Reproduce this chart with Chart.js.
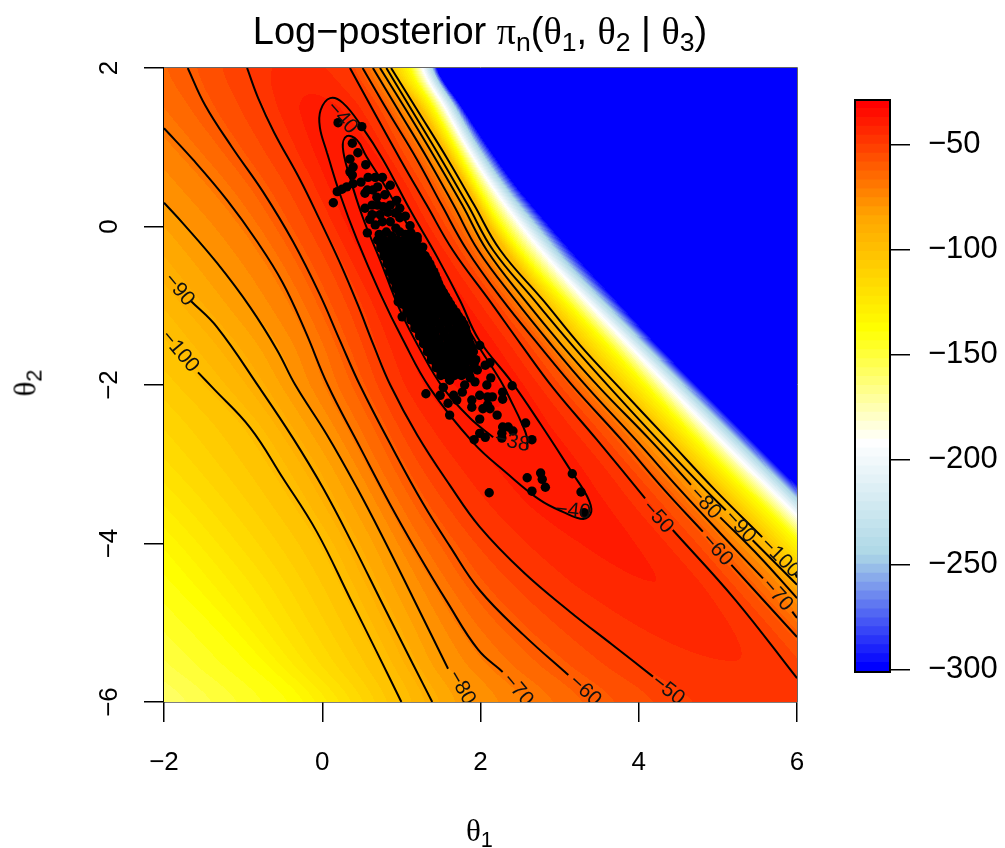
<!DOCTYPE html>
<html lang="en">
<head>
<meta charset="UTF-8">
<title>Log-posterior</title>
<script src="https://cdn.jsdelivr.net/npm/chart.js"></script>
<style>
  body { margin: 0; background: #fff; width: 1005px; height: 848px; overflow: hidden; position: relative; font-family: "Liberation Sans", sans-serif; color: #000; }
  canvas { position: absolute; top: 0; }
  #main { left: 0; }
  #bar { left: 830px; }
  .txt { position: absolute; white-space: nowrap; }
  .gr { font-family: "Liberation Serif", serif; }
  sub { font-size: 70%; vertical-align: baseline; position: relative; top: 0.28em; }
  #title { left: 0; width: 960px; top: 9px; text-align: center; font-size: 38px; line-height: 44px; }
  #xlab { left: 466px; top: 813px; font-size: 31px; line-height: 36px; }
  #ylab { left: 27px; top: 383px; font-size: 31px; line-height: 36px; transform: translate(-50%, -50%) rotate(-90deg); }
</style>
</head>
<body>
<canvas id="main" width="830" height="848"></canvas>
<canvas id="bar" width="175" height="848"></canvas>
<div id="title" class="txt">Log−posterior <span class="gr">π</span><sub>n</sub><span>(</span><span class="gr">θ</span><sub>1</sub>, <span class="gr">θ</span><sub>2</sub> | <span class="gr">θ</span><sub>3</sub>)</div>
<div id="xlab" class="txt"><span class="gr">θ</span><sub>1</sub></div>
<div id="ylab" class="txt"><span class="gr">θ</span><sub>2</sub></div>
<script>
// Rows of the field, theta2 from 2 down to -6
const rowTheta2 = [2, 1.5, 1, 0.5, 0, -0.5, -1, -1.5, -2, -2.5, -3, -3.5, -4, -4.5, -5, -5.5, -6];

// theta1 where each row crosses a level (left of ridge)
const iso160L = [-10.1,-9.6,-9.1,-8.6,-8.1,-7.6,-7.1,-6.6,-6.1,-5.6,-5.1,-4.6,-4.1,-3.6,-3.1,-2.6,-2.0];
const iso138L = [-8.24,-7.74,-7.23,-6.73,-6.22,-5.72,-5.21,-4.71,-4.20,-3.69,-3.25,-2.75,-2.24,-1.80,-1.32,-0.85,-0.35];
const iso120L = [-6.92,-6.41,-5.91,-5.40,-4.90,-4.39,-3.92,-3.44,-3.00,-2.56,-2.08,-1.61,-1.19,-0.79,-0.47,-0.13,0.29];
const iso100L = [-4.71,-4.27,-3.87,-3.47,-3.06,-2.66,-2.24,-1.85,-1.42,-0.95,-0.62,-0.31,0.01,0.26,0.50,0.76,1.00];
const iso90L = [-4.07,-3.64,-3.24,-2.83,-2.43,-2.03,-1.61,-1.17,-0.81,-0.48,-0.16,0.12,0.39,0.63,0.88,1.12,1.39];
const iso80L = [-3.44,-3.04,-2.62,-2.20,-1.72,-1.30,-0.93,-0.58,-0.34,-0.03,0.27,0.54,0.81,1.05,1.30,1.54,1.87];
const iso70L = [-2.68,-2.24,-1.79,-1.34,-0.95,-0.62,-0.34,-0.10,0.07,0.33,0.59,0.86,1.13,1.44,1.74,2.12,2.65];
const iso60L = [-1.70,-1.47,-1.13,-0.77,-0.47,-0.19,0.05,0.27,0.48,0.73,0.98,1.26,1.60,1.93,2.37,2.92,3.51];
const iso50L = [-0.95,-0.74,-0.50,-0.23,0.02,0.27,0.50,0.68,0.85,1.10,1.40,1.77,2.18,2.71,3.32,3.95,4.65];
// ridge line and its height
const ridgeTheta1 = [-0.28,-0.03,0.29,0.59,0.79,1.05,1.36,1.68,1.99,2.37,2.82,3.19,3.70,4.21,4.71,5.22,5.72];
const ridgeValue = [-44,-40,-38,-36,-36,-36,-36,-36,-36,-38,-39,-39.5,-40.6,-41.4,-43.5,-45.7,-48];
// right of ridge
const iso50R = [0.35,0.65,0.90,1.18,1.47,1.80,2.15,2.52,2.89,3.31,3.74,4.15,4.59,5.03,5.45,5.85,6.23];
const iso60R = [0.51,0.82,1.11,1.42,1.70,1.99,2.37,2.77,3.16,3.61,4.03,4.50,4.95,5.38,5.85,6.32,6.77];
const iso70R = [0.64,0.93,1.24,1.53,1.82,2.14,2.50,2.90,3.32,3.78,4.23,4.69,5.17,5.64,6.07,6.52,6.99];
const iso80R = [0.73,1.05,1.34,1.62,1.91,2.22,2.60,3.00,3.45,3.95,4.42,4.87,5.35,5.86,6.32,6.80,7.28];
const iso90R = [0.81,1.13,1.41,1.70,1.99,2.33,2.73,3.13,3.57,4.05,4.55,5.03,5.49,5.99,6.48,6.98,7.49];
const iso100R = [0.87,1.24,1.54,1.84,2.12,2.47,2.85,3.26,3.70,4.19,4.67,5.16,5.63,6.07,6.54,7.05,7.55];
const iso138R = [1.11,1.40,1.68,1.96,2.27,2.66,3.13,3.61,4.08,4.55,5.03,5.54,6.04,6.54,7.05,7.55,8.06];
const iso192R = [1.27,1.55,1.83,2.15,2.52,2.94,3.40,3.88,4.36,4.84,5.34,5.85,6.35,6.86,7.36,7.87,8.37];
const iso246R = [1.39,1.68,1.97,2.31,2.71,3.13,3.60,4.08,4.56,5.05,5.56,6.07,6.58,7.08,7.59,8.10,8.60];
const iso300R = [1.45,1.77,2.10,2.46,2.88,3.32,3.78,4.24,4.73,5.23,5.73,6.25,6.77,7.29,7.81,8.33,8.85];

// Contour lines as [theta1, theta2], null = gap for a label
const contour100 = [[-1.57,-1.84],[-1.38,-2.04],[-0.91,-2.54],[-0.50,-3.17],[-0.07,-3.85],[0.35,-4.69],[0.69,-5.37],[1.00,-6],null,
  [0.87,2],[1.20,1.47],[1.59,0.84],[1.92,0.27],[2.25,-0.30],[2.79,-0.93],[3.26,-1.50],[3.76,-2.04],[4.37,-2.69],[4.96,-3.32],[5.56,-3.92],null,[5.98,-4.38],[6,-4.43]];
const contour90 = [[-1.66,-0.94],[-1.33,-1.27],[-0.79,-2.04],[-0.37,-2.67],[0.01,-3.30],[0.39,-4.02],[0.77,-4.78],[1.15,-5.53],[1.39,-6],null,
  [0.81,2],[1.13,1.47],[1.51,0.84],[1.84,0.27],[2.16,-0.30],[2.68,-0.93],[3.16,-1.50],[3.64,-2.04],[4.24,-2.69],[4.84,-3.32],[5.10,-3.58],null,[5.44,-3.96],[6,-4.52]];
const contour80 = [[-2,0.30],[-1.76,0.04],[-1.33,-0.46],[-0.91,-1.02],[-0.57,-1.56],[-0.34,-2.00],[0.06,-2.63],[0.44,-3.30],[0.77,-3.93],[1.15,-4.69],[1.59,-5.58],null,
  [0.73,2],[1.06,1.47],[1.44,0.84],[1.77,0.27],[2.08,-0.30],[2.56,-0.93],[3.03,-1.50],[3.51,-2.04],[4.14,-2.69],[4.66,-3.26],null,[5.03,-3.67],[5.53,-4.17],[6,-4.69]];
const contour70 = [[-2,1.24],[-1.63,0.84],[-1.20,0.33],[-0.83,-0.18],[-0.50,-0.71],[-0.21,-1.33],[0.07,-2.00],[0.48,-2.79],[0.86,-3.51],[1.20,-4.11],[1.58,-4.74],[1.97,-5.34],[2.28,-5.62],null,
  [0.64,2],[0.96,1.47],[1.34,0.84],[1.66,0.27],[1.97,-0.30],[2.44,-0.93],[2.90,-1.50],[3.36,-2.04],[3.96,-2.69],[4.52,-3.32],[5.03,-3.87],[5.57,-4.44],null,[5.94,-4.86],[6,-4.94]];
const contour60 = [[-1.70,2],[-1.48,1.53],[-1.14,1.00],[-0.75,0.44],[-0.37,-0.19],[-0.03,-0.86],[0.22,-1.43],[0.48,-2.01],[0.90,-2.82],[1.27,-3.49],[1.61,-4.03],[1.99,-4.59],[2.54,-5.15],[3.11,-5.66],null,
  [0.51,2],[0.82,1.47],[1.20,0.84],[1.51,0.27],[1.83,-0.30],[2.28,-0.93],[2.74,-1.50],[3.19,-2.04],[3.78,-2.69],[4.32,-3.32],[4.81,-3.85],null,[5.17,-4.27],[6,-5.18]];
const contour50 = [[-0.95,2],[-0.81,1.62],[-0.61,1.19],[-0.28,0.59],[-0.03,0.08],[0.22,-0.45],[0.45,-0.99],[0.65,-1.50],[0.86,-2.00],[1.20,-2.63],[1.61,-3.26],[1.99,-3.79],[2.54,-4.36],[3.13,-4.86],[3.67,-5.28],[4.18,-5.68],null,
  [0.35,2],[0.64,1.47],[0.99,0.84],[1.32,0.27],[1.65,-0.30],[2.11,-0.93],[2.52,-1.50],[2.92,-2.04],[3.47,-2.69],[4.08,-3.43],null,[4.43,-3.83],[5.22,-4.71],[6,-5.70]];
const contour40 = [[0.06,0.93],[0.22,0.42],[0.44,-0.17],[0.73,-0.84],[1.02,-1.43],[1.36,-2.04],[1.91,-2.73],[2.33,-3.11],[2.75,-3.45],[3.04,-3.60],[3.30,-3.69],[3.40,-3.60],[3.35,-3.41],[3.16,-3.11],[2.75,-2.48],[2.40,-1.97],[1.98,-1.43],[1.74,-0.93],[1.45,-0.38],[1.11,0.21],[0.77,0.84],[0.50,1.26],[0.26,1.56],[0.10,1.62],[-0.02,1.47],[-0.03,1.25],[0.06,0.93]];
const contour38 = [[2.16,-2.66],[1.87,-2.42],[1.53,-2.04],[1.24,-1.56],[0.98,-1.05],[0.73,-0.42],[0.51,0.12],[0.35,0.62],[0.26,1.00],[0.31,1.14],[0.44,1.09],[0.56,0.88],[0.77,0.55],[1.02,0.12],[1.32,-0.38],[1.58,-0.84],[1.83,-1.27],[1.98,-1.52],[2.25,-1.94],[2.40,-2.23],[2.52,-2.48],[2.59,-2.67],[2.59,-2.81]];

// Contour labels
const labelText = ['−90','−100','−40','−38','−40','−80','−70','−60','−50','−50','−60','−70','−80','−90','−100'];
const labelTheta1 = [-1.81,-1.80,0.25,2.40,3.17,1.76,2.47,3.32,4.37,4.24,4.99,5.75,4.84,5.28,5.79];
const labelTheta2 = [-0.80,-1.58,1.37,-2.72,-3.59,-5.82,-5.85,-5.86,-5.85,-3.67,-4.08,-4.65,-3.49,-3.79,-4.18];
const labelAngle = [50,50,48,12,6,60,50,43,38,48,48,48,47,47,45];

// Posterior sample, scattered points read one by one
const samplesOuter = [[0.20,1.31],[0.50,1.26],[0.38,1.05],[0.45,0.93],[0.35,0.85],[0.55,0.78],[0.39,0.75],[0.35,0.69],[0.38,0.65],
  [0.19,0.44],[0.25,0.47],[0.31,0.50],[0.39,0.54],[0.49,0.56],[0.58,0.62],[0.67,0.62],[0.76,0.62],[0.86,0.52],[0.14,0.30],[0.54,0.42],
  [0.64,0.46],[0.69,0.37],[0.57,0.46],[0.70,0.27],[0.86,0.27],[0.77,0.25],[0.54,0.23],[0.60,0.09],[0.57,-0.08],[0.98,0.23],[1.11,0.01],
  [1.20,-0.13],[1.27,-0.26],[0.67,0.02],[0.76,0.06],[0.86,0.06],[0.93,-0.02],[0.81,-0.07],[0.88,-0.12],[0.98,-0.07],[1.05,0.13],[0.83,0.18],
  [0.92,0.17],[0.73,0.15],[0.98,0.11],[0.63,0.27],[0.79,0.40],[0.70,0.50],[0.63,0.15],[0.94,0.33],[0.72,-0.10],[1.05,-0.10],[1.12,-0.08],
  [2.59,-3.17],[2.76,-3.11],[2.78,-3.19],[2.82,-3.29],[2.65,-3.34],[3.16,-3.12],[3.27,-3.35],[3.31,-3.61],[2.11,-3.36],[1.92,-2.69],
  [1.99,-2.61],[2.06,-2.66],[2.28,-2.53],[2.35,-2.53],[2.41,-2.58],[2.27,-2.61],[2.27,-2.67],[2.57,-2.48],[2.65,-2.69],[2.21,-2.38],
  [1.99,-2.43],[2.03,-2.30],[2.12,-2.30],[2.09,-2.25],[2.15,-2.15],[2.09,-2.15],[2.28,-2.09],[2.28,-2.18],[2.40,-2.01],[1.89,-2.28],
  [1.89,-2.19],[1.99,-2.13],[2.08,-2.00],[1.31,-2.11],[1.53,-2.03],[1.61,-1.94],[1.77,-2.09],[1.70,-2.19],[1.59,-2.23],[1.61,-2.38],
  [2.06,-1.75],[2.12,-1.72],[1.99,-1.50],[2.13,-1.91],[1.83,-1.39],[1.96,-1.81],[1.93,-1.96],[1.51,-1.84],[1.01,-1.14],[0.96,-0.95],
  [1.17,-1.28],[1.39,-1.68],[1.66,-2.13],[1.49,-2.13],[1.80,-2.00],[1.87,-1.91]];
// dense middle of the cloud, by theta2 band
const coreTheta2 = [-0.17,-0.22,-0.27,-0.32,-0.37,-0.42,-0.47,-0.52,-0.57,-0.62,-0.67,-0.72,-0.78,-0.83,-0.88,-0.93,-0.98,-1.03,-1.08,-1.13,-1.18,-1.23,-1.28,-1.33,-1.38,-1.43,-1.48,-1.53,-1.58,-1.63,-1.68,-1.73,-1.78,-1.83,-1.88];
const coreTheta1 = [
  [0.70,0.78,0.87,0.95,1.04,1.12,1.20],
  [0.74,0.82,0.91,0.99,1.08,1.17],
  [0.74,0.83,0.91,1.00,1.08,1.17,1.26],
  [0.78,0.87,0.95,1.04,1.12,1.21],
  [0.78,0.86,0.95,1.03,1.12,1.21,1.30],
  [0.82,0.90,0.99,1.07,1.16,1.26,1.33],
  [0.82,0.91,0.99,1.08,1.16,1.26,1.36],
  [0.86,0.95,1.03,1.12,1.21,1.31,1.38],
  [0.85,0.94,1.03,1.12,1.21,1.31,1.41],
  [0.89,0.98,1.07,1.16,1.26,1.35,1.43],
  [0.89,0.98,1.07,1.16,1.26,1.35,1.45],
  [0.93,1.02,1.11,1.21,1.30,1.40,1.47],
  [0.93,1.02,1.11,1.20,1.30,1.40,1.50],
  [0.97,1.07,1.16,1.25,1.35,1.45,1.53],
  [0.97,1.07,1.16,1.26,1.36,1.46,1.56],
  [1.02,1.11,1.21,1.31,1.41,1.51,1.59],
  [1.02,1.11,1.21,1.31,1.41,1.52,1.62],
  [1.07,1.16,1.26,1.36,1.46,1.57,1.65],
  [1.07,1.17,1.27,1.37,1.48,1.58,1.69],
  [1.12,1.22,1.32,1.42,1.53,1.63,1.72],
  [1.12,1.22,1.33,1.43,1.54,1.65,1.76],
  [1.17,1.27,1.38,1.48,1.59,1.70,1.79],
  [1.18,1.28,1.38,1.49,1.60,1.71,1.81],
  [1.23,1.33,1.43,1.54,1.65,1.76,1.82],
  [1.23,1.33,1.43,1.54,1.64,1.74,1.83],
  [1.28,1.38,1.48,1.59,1.69,1.79,1.85],
  [1.28,1.38,1.48,1.58,1.68,1.78,1.87],
  [1.33,1.43,1.53,1.63,1.73,1.83,1.89],
  [1.33,1.43,1.53,1.63,1.72,1.82,1.91],
  [1.38,1.48,1.58,1.68,1.77,1.87],
  [1.38,1.48,1.58,1.67,1.76,1.85,1.94],
  [1.44,1.53,1.63,1.72,1.81,1.92],
  [1.44,1.53,1.62,1.71,1.80,1.91],
  [1.50,1.58,1.67,1.76,1.85],
  [1.50,1.58,1.67,1.76,1.86]
];

const xTicks = [-2, 0, 2, 4, 6];
const yTicks = [-6, -4, -2, 0, 2];
const barTicks = [-50, -100, -150, -200, -250, -300];

// Colour scale
const rampStops = [[0,0,255],[173,216,230],[255,255,255],[255,255,0],[255,165,0],[255,0,0]];
const zMin = -301, zMax = -28.6, nColours = 64;

function colourAt(i) {
  const t = i / (nColours - 1) * (rampStops.length - 1);
  const k = Math.min(Math.floor(t), rampStops.length - 2), f = t - k;
  return rampStops[k].map((c, n) => Math.round(c + (rampStops[k + 1][n] - c) * f));
}
const palette = [];
for (let i = 0; i < nColours; i++) palette.push(colourAt(i));

function colourFor(v) {
  const i = Math.floor((v - zMin) / (zMax - zMin) * nColours);
  return palette[Math.max(0, Math.min(nColours - 1, i))];
}

const minus = v => String(v).replace('-', '−');

// Filled field between the read iso lines
const knotLines = [iso160L, iso138L, iso120L, iso100L, iso90L, iso80L, iso70L, iso60L, iso50L, ridgeTheta1,
  iso50R, iso60R, iso70R, iso80R, iso90R, iso100R, iso138R, iso192R, iso246R, iso300R];
const knotLevels = [-160, -138, -120, -100, -90, -80, -70, -60, -50, null, -50, -60, -70, -80, -90, -100, -138, -192, -246, -300];
const ridgeIndex = knotLevels.indexOf(null);

// smooth shading along a read line between two rows
function rowPos(l, i, f) {
  const a = l[Math.max(0, i - 1)], b = l[i], c = l[i + 1], d = l[Math.min(l.length - 1, i + 2)];
  return b + 0.5 * f * (c - a + f * (2 * a - 5 * b + 4 * c - d + f * (3 * (b - c) + d - a)));
}

const fieldPlugin = {
  id: 'field',
  beforeDatasetsDraw(chart) {
    const { ctx, chartArea: a, scales: { x, y } } = chart;
    const w = Math.round(a.right - a.left), h = Math.round(a.bottom - a.top);
    const off = document.createElement('canvas');
    off.width = w; off.height = h;
    const octx = off.getContext('2d');
    const img = octx.createImageData(w, h);
    for (let py = 0; py < h; py++) {
      const t2 = y.getValueForPixel(a.top + py + 0.5);
      const r = Math.max(0, Math.min(rowTheta2.length - 1.001, (rowTheta2[0] - t2) / 0.5));
      const i0 = Math.floor(r), fr = r - i0;
      const pos = knotLines.map(l => rowPos(l, i0, fr));
      const top = ridgeValue[i0] + (ridgeValue[i0 + 1] - ridgeValue[i0]) * fr;
      const val = knotLevels.map(v => v === null ? top : v);
      let k = 0;
      for (let px = 0; px < w; px++) {
        const t1 = x.getValueForPixel(a.left + px + 0.5);
        while (k < pos.length - 1 && t1 > pos[k + 1]) k++;
        let v;
        if (t1 <= pos[0]) v = val[0];
        else if (t1 >= pos[pos.length - 1]) v = val[val.length - 1];
        else {
          const s = (t1 - pos[k]) / (pos[k + 1] - pos[k]);
          // rounded top of the ridge
          if (k === ridgeIndex - 1) v = -50 + (top + 50) * (1 - (1 - s) * (1 - s));
          else if (k === ridgeIndex) v = top + (-50 - top) * s * s;
          else v = val[k] + (val[k + 1] - val[k]) * s;
        }
        const c = colourFor(v), o = (py * w + px) * 4;
        img.data[o] = c[0]; img.data[o + 1] = c[1]; img.data[o + 2] = c[2]; img.data[o + 3] = 255;
      }
    }
    octx.putImageData(img, 0, 0);
    ctx.drawImage(off, a.left, a.top);
  },
  afterDatasetsDraw(chart) {
    const { ctx, chartArea: a, scales: { x, y } } = chart;
    ctx.save();
    ctx.beginPath();
    ctx.rect(a.left, a.top, a.right - a.left, a.bottom - a.top);
    ctx.clip();
    ctx.fillStyle = '#111';
    ctx.font = '21px "Liberation Sans"';
    ctx.textAlign = 'center';
    ctx.textBaseline = 'middle';
    labelText.forEach((t, i) => {
      ctx.save();
      ctx.translate(x.getPixelForValue(labelTheta1[i]), y.getPixelForValue(labelTheta2[i]));
      ctx.rotate(labelAngle[i] * Math.PI / 180);
      ctx.fillText(t, 0, 0);
      ctx.restore();
    });
    ctx.restore();
    // thin frame on the top and right
    ctx.strokeStyle = '#666';
    ctx.lineWidth = 1;
    ctx.beginPath();
    ctx.moveTo(a.left, a.top - 0.5);
    ctx.lineTo(a.right + 0.5, a.top - 0.5);
    ctx.lineTo(a.right + 0.5, a.bottom);
    ctx.stroke();
  }
};

function toPoints(list) {
  return list.map(p => p ? { x: p[0], y: p[1] } : { x: NaN, y: NaN });
}

const contours = [contour100, contour90, contour80, contour70, contour60, contour50, contour40, contour38];
const contourSets = contours.map((c, i) => ({
  label: 'contour ' + i,
  data: toPoints(c),
  showLine: true,
  spanGaps: false,
  borderColor: '#000',
  borderWidth: 2,
  tension: 0.4,
  pointRadius: 0,
  order: 2
}));

const samplePoints = samplesOuter.map(p => ({ x: p[0], y: p[1] }));
coreTheta2.forEach((t2, i) => coreTheta1[i].forEach(t1 => samplePoints.push({ x: t1, y: t2 })));

const axisStyle = {
  type: 'linear',
  grid: { drawOnChartArea: false, drawTicks: true, tickLength: 20, color: '#000', lineWidth: 1.5 },
  border: { display: true, color: '#000', width: 1.5 }
};

new Chart(document.getElementById('main'), {
  type: 'scatter',
  data: {
    datasets: [{
      label: 'posterior sample',
      data: samplePoints,
      pointRadius: 4.7,
      pointBackgroundColor: '#000',
      pointBorderWidth: 0,
      order: 1
    }].concat(contourSets)
  },
  options: {
    responsive: false,
    animation: false,
    devicePixelRatio: 1,
    layout: { padding: { top: 68, right: 33, left: 0, bottom: 0 } },
    plugins: { legend: { display: false }, tooltip: { enabled: false } },
    scales: {
      x: Object.assign({}, axisStyle, {
        min: -2, max: 6,
        afterBuildTicks: s => { s.ticks = xTicks.map(v => ({ value: v })); },
        afterFit: s => { s.height = 146; },
        ticks: { autoSkip: false, maxRotation: 0, padding: 25, color: '#000', font: { family: 'Liberation Sans', size: 26 }, callback: minus }
      }),
      y: Object.assign({}, axisStyle, {
        min: -6, max: 2,
        afterBuildTicks: s => { s.ticks = yTicks.map(v => ({ value: v })); },
        afterFit: s => { s.width = 164; },
        ticks: { autoSkip: false, minRotation: 90, maxRotation: 90, crossAlign: 'center', padding: 19, color: '#000', font: { family: 'Liberation Sans', size: 26 }, callback: minus }
      })
    }
  },
  plugins: [fieldPlugin]
});

// Colour bar
const barSets = palette.map((c, i) => {
  const step = (zMax - zMin) / nColours;
  return {
    label: 'level ' + i,
    data: [[zMin + i * step, zMin + (i + 1) * step + 0.3]],
    backgroundColor: 'rgb(' + c.join(',') + ')',
    borderWidth: 0,
    barPercentage: 1,
    categoryPercentage: 1,
    grouped: false
  };
});

const barFrame = {
  id: 'barFrame',
  afterDatasetsDraw(chart) {
    const { ctx, chartArea: a } = chart;
    ctx.strokeStyle = '#000';
    ctx.lineWidth = 2;
    ctx.strokeRect(a.left, a.top, a.right - a.left, a.bottom - a.top);
  }
};

new Chart(document.getElementById('bar'), {
  type: 'bar',
  data: { labels: ['z'], datasets: barSets },
  options: {
    responsive: false,
    animation: false,
    devicePixelRatio: 1,
    layout: { padding: { top: 100, left: 25, right: 0, bottom: 176 } },
    plugins: { legend: { display: false }, tooltip: { enabled: false } },
    scales: {
      x: { display: false },
      y: {
        type: 'linear',
        position: 'right',
        min: zMin, max: zMax,
        afterBuildTicks: s => { s.ticks = barTicks.map(v => ({ value: v })); },
        afterFit: s => { s.width = 115; },
        grid: { drawOnChartArea: false, tickLength: 20, color: '#000', lineWidth: 1.5 },
        border: { display: false },
        ticks: { autoSkip: false, padding: 18, color: '#000', font: { family: 'Liberation Sans', size: 31 }, callback: minus }
      }
    }
  },
  plugins: [barFrame]
});
</script>
</body>
</html>
